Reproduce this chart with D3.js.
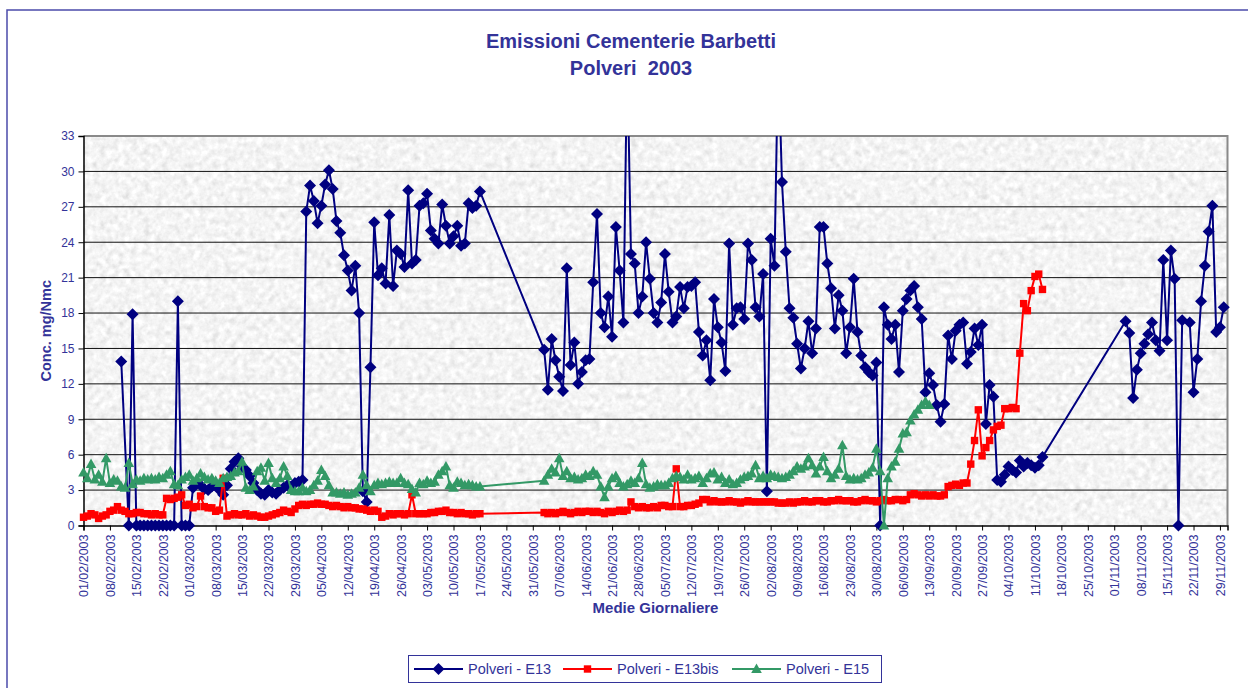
<!DOCTYPE html>
<html>
<head>
<meta charset="utf-8">
<script src="https://cdn.jsdelivr.net/npm/d3@7"></script>
<style>
  body { margin: 0; background: #fff; }
  text { font-family: "Liberation Sans", Arial, sans-serif; }
</style>
</head>
<body>
<div id="canvas"></div>
<script>
// daily means, index = days since 01/02/2003 (null = no measurement)
const startDay = "2003-02-01";
const endDay = "2003-12-01";

const e13 = [
  null,null,null,null,null,null,null,null,null,null,
  13.9,null,0,17.9,0,0,0,0,0,0,
  0,0,0,0,0,19.0,0,0,0,3.2,
  3.6,3.4,3.1,3.0,3.3,3.5,3.0,2.6,3.4,4.8,
  5.4,5.7,5.0,4.7,4.2,3.6,3.0,2.7,2.6,3.0,
  2.8,2.7,3.0,3.2,3.4,3.3,3.6,3.7,3.85,26.6,
  28.8,27.5,25.6,27.1,28.9,30.1,28.5,25.8,24.8,22.9,
  21.6,19.9,22.0,18.0,2.9,2.0,13.4,25.7,21.2,21.8,
  20.5,26.3,20.3,23.3,23.0,21.9,28.4,22.2,22.5,27.1,
  27.3,28.1,25.0,24.3,23.9,27.2,25.4,23.9,24.5,25.4,
  23.7,23.9,27.3,26.9,27.1,28.3,null,null,null,null,
  null,null,null,null,null,null,null,null,null,null,
  null,null,14.9,11.5,15.8,14.0,12.6,11.4,21.8,13.6,
  15.5,12.0,13.0,14.0,14.1,20.6,26.4,18.0,16.8,19.4,
  16.0,25.3,21.6,17.2,40,23.0,22.2,18.0,19.4,24.0,
  20.9,18.0,17.2,18.9,23.0,19.8,17.2,17.7,20.2,18.4,
  20.2,20.3,20.6,16.4,14.4,15.7,12.3,19.2,16.8,15.5,
  13.1,23.9,17.0,18.4,18.5,17.5,23.9,22.5,18.5,17.7,
  21.3,2.9,24.3,22.0,40,29.1,23.2,18.4,17.6,15.4,
  13.3,15.0,17.3,14.6,16.7,25.3,25.3,22.2,20.1,16.7,
  19.5,18.2,14.6,16.8,20.9,16.4,14.4,13.4,13.0,12.7,
  13.8,0,18.5,17.0,15.8,17.0,13.0,18.2,19.2,19.9,
  20.3,18.5,17.5,11.3,12.9,11.9,10.2,8.8,10.3,16.1,
  14.1,16.5,17.0,17.2,13.7,14.7,16.7,15.3,17.0,8.6,
  11.9,10.9,3.85,3.7,4.3,5.0,4.7,4.5,5.5,5.0,
  5.3,5.1,4.9,5.1,5.8,null,null,null,null,null,
  null,null,null,null,null,null,null,null,null,null,
  null,null,null,null,null,null,17.3,16.3,10.8,13.2,
  14.6,15.4,16.2,17.2,15.7,14.8,22.5,15.7,23.3,20.9,
  0,17.4,null,17.2,11.3,14.1,19.0,22.0,24.9,27.1,
  16.4,16.8,18.5
];

const e13bis = [
  0.7,0.8,1.0,0.9,0.6,0.8,0.9,1.2,1.3,1.6,
  1.3,1.2,1.0,1.0,1.1,1.1,1.0,1.0,0.9,1.0,
  0.9,0.9,2.3,2.2,2.3,2.4,2.6,1.7,1.8,1.5,
  1.6,2.5,1.6,1.5,1.5,1.2,1.3,4.0,0.8,0.9,
  1.0,0.9,0.9,1.0,0.8,0.9,0.8,0.7,0.7,0.8,
  0.9,1.0,1.1,1.3,1.2,1.1,1.4,1.7,1.8,1.7,
  1.8,1.8,1.9,1.8,1.8,1.7,1.6,1.7,1.6,1.5,
  1.6,1.5,1.5,1.4,1.4,1.3,1.2,1.3,1.2,0.7,
  0.8,1.0,0.9,1.0,1.0,0.9,1.0,2.6,1.0,1.0,
  1.0,1.0,1.1,1.1,1.2,1.2,1.3,1.1,1.1,1.0,
  1.1,1.0,1.0,0.9,1.0,1.0,null,null,null,null,
  null,null,null,null,null,null,null,null,null,null,
  null,null,1.1,1.0,1.1,1.0,1.1,1.2,1.1,1.0,
  1.1,1.2,1.1,1.2,1.2,1.1,1.2,1.1,1.0,1.2,
  1.1,1.2,1.3,1.2,1.3,2.0,1.6,1.5,1.6,1.5,
  1.5,1.6,1.5,1.7,1.7,1.6,1.6,4.8,1.6,1.6,
  1.7,1.7,1.8,1.9,2.2,2.2,2.0,2.1,2.0,2.0,
  2.0,2.1,2.0,2.0,1.9,2.0,2.1,2.0,2.0,2.0,
  2.0,2.0,2.0,2.0,1.9,1.9,1.9,2.0,1.9,2.0,
  2.0,2.1,2.0,2.0,2.1,2.1,2.0,2.0,2.1,2.1,
  2.2,2.1,2.1,2.1,2.0,2.0,2.1,2.2,2.1,2.1,
  2.0,2.1,2.2,2.1,2.1,2.2,2.2,2.1,2.2,2.6,
  2.7,2.6,2.5,2.6,2.5,2.6,2.5,2.5,2.6,3.3,
  3.4,3.5,3.4,3.6,3.6,5.2,7.2,9.8,5.9,6.6,
  7.2,8.1,8.4,8.5,9.9,9.9,10.0,9.9,14.6,18.8,
  18.2,19.9,21.1,21.3,20.0
];

const e15 = [
  4.5,4.0,5.2,3.9,4.3,3.7,5.7,3.6,3.9,3.8,
  3.3,3.2,5.3,3.5,3.9,3.8,4.0,3.9,4.0,3.9,
  4.1,4.0,4.3,4.6,3.5,3.4,3.9,4.1,4.3,3.8,
  4.0,4.4,4.1,3.9,4.0,3.8,3.6,4.0,4.1,4.2,
  4.5,4.6,5.4,3.2,3.0,3.3,4.6,4.9,3.8,5.3,
  4.0,3.6,4.0,5.0,4.2,3.0,2.9,2.9,3.2,2.9,
  3.0,3.4,3.8,4.7,4.2,3.4,2.8,2.8,2.7,2.8,
  2.6,2.7,2.8,3.2,4.3,3.4,2.9,3.4,3.6,3.5,
  3.6,3.7,3.6,3.6,4.0,3.6,3.5,3.1,2.8,3.6,
  3.5,3.8,3.6,3.7,4.3,4.6,5.0,3.4,3.2,3.7,
  3.6,3.4,3.5,3.4,3.3,3.3,null,null,null,null,
  null,null,null,null,null,null,null,null,null,null,
  null,null,3.8,4.3,4.8,4.5,5.7,4.2,4.6,4.0,
  4.1,3.9,4.0,4.3,4.2,4.6,4.3,3.3,2.4,3.3,
  4.0,4.2,3.6,3.3,3.5,3.8,3.6,4.0,5.3,3.5,
  3.2,3.3,3.5,3.4,3.4,3.6,4.0,4.2,4.1,3.9,
  4.3,3.9,4.0,4.2,3.6,4.0,4.4,4.5,3.9,4.1,
  3.6,3.9,3.5,3.6,3.9,4.1,4.2,4.4,5.1,4.0,
  4.2,4.0,4.3,4.2,4.1,4.0,4.1,4.3,4.6,5.0,
  4.8,5.0,5.7,5.1,4.4,5.0,5.8,4.6,4.0,4.3,
  4.8,6.8,4.2,3.9,4.0,3.9,4.0,4.3,4.5,4.9,
  6.5,4.6,0.0,4.0,5.0,5.4,6.5,7.8,7.9,8.9,
  9.4,9.8,10.2,10.5,10.2
];

const seriesNames = ["Polveri - E13", "Polveri - E13bis", "Polveri - E15"];
const seriesColors = ["#000080", "#ff0000", "#339966"];
const yTicks = d3.range(0, 34, 3);
const tickStepDays = 7;

const titleLines = ["Emissioni Cementerie Barbetti", "Polveri  2003"];
const yTitle = "Conc. mg/Nmc";
const xTitle = "Medie Giornaliere";

const w = 1248, h = 688;
const plot = {left: 83.5, right: 1227.5, top: 136, bottom: 525.5};
const ink = "#333399";

let svg = d3.select("#canvas")
            .append("svg")
                .attr("width", w)
                .attr("height", h)
                .attr("viewBox", [0, 0, w, h]);

const t0 = d3.utcParse("%Y-%m-%d")(startDay);
const t1 = d3.utcParse("%Y-%m-%d")(endDay);

const x = d3.scaleUtc().domain([t0, t1]).range([plot.left, plot.right]);
const y = d3.scaleLinear().domain([0, 33]).range([plot.bottom, plot.top]);

// granite texture of the plot area
const defs = svg.append("defs");
const f = defs.append("filter").attr("id", "granite")
    .attr("x", 0).attr("y", 0).attr("width", 1).attr("height", 1);
f.append("feTurbulence").attr("type", "fractalNoise")
    .attr("baseFrequency", 0.16).attr("numOctaves", 3).attr("seed", 7);
f.append("feColorMatrix").attr("type", "matrix")
    .attr("values", "0.33 0.33 0.33 0 0  0.33 0.33 0.33 0 0  0.33 0.33 0.33 0 0  0 0 0 0 1");
const ct = f.append("feComponentTransfer");
["feFuncR", "feFuncG", "feFuncB"].forEach(n =>
    ct.append(n).attr("type", "linear").attr("slope", 0.7).attr("intercept", 0.56));

defs.append("clipPath").attr("id", "clip")
  .append("rect").attr("x", 0).attr("y", plot.top).attr("width", w).attr("height", h - plot.top);

// outer frame
svg.append("rect")
    .attr("x", 7).attr("y", 10).attr("width", 1262).attr("height", 700)
    .attr("fill", "none").attr("stroke", "#4b4baa").attr("stroke-width", 1.5);

svg.append("rect")
    .attr("x", plot.left).attr("y", plot.top)
    .attr("width", plot.right - plot.left).attr("height", plot.bottom - plot.top)
    .attr("fill", "#e6e6e6")
    .attr("filter", "url(#granite)");

// grid
svg.append("g").selectAll("line")
    .data(yTicks.filter(v => v > 0 && v < 33))
  .enter().append("line")
    .attr("x1", plot.left).attr("x2", plot.right)
    .attr("y1", d => y(d)).attr("y2", d => y(d))
    .attr("stroke", "#111").attr("stroke-width", 1);

// plot border (top / right grey)
svg.append("path")
    .attr("d", `M${plot.left},${plot.top}H${plot.right}V${plot.bottom}`)
    .attr("fill", "none").attr("stroke", "#8a8a8a").attr("stroke-width", 2);

// axes
const yAxis = d3.axisLeft(y).tickValues(yTicks).tickSize(5).tickPadding(4);
const gY = svg.append("g").attr("transform", `translate(${plot.left},0)`).call(yAxis);
gY.select(".domain").attr("stroke", "#000").attr("stroke-width", 1.5);
gY.selectAll(".tick line").attr("stroke", "#000");
gY.selectAll(".tick text").attr("fill", ink).attr("font-size", 12)
    .style("font-family", "'Liberation Sans', Arial, sans-serif");

// weekly ticks counted from the first day
const xTicks = d3.utcDay.range(t0, t1, tickStepDays);
const xAxis = d3.axisBottom(x).tickValues(xTicks).tickSize(5).tickPadding(4)
    .tickFormat(d3.utcFormat("%d/%m/%Y"));
const gX = svg.append("g").attr("transform", `translate(0,${plot.bottom})`).call(xAxis);
gX.select(".domain").attr("stroke", "#000").attr("stroke-width", 1.5);
gX.selectAll(".tick line").attr("stroke", "#000");
gX.selectAll(".tick text")
    .attr("fill", ink).attr("font-size", 12.5)
    .style("font-family", "'Liberation Sans', Arial, sans-serif")
    .attr("text-anchor", "end")
    .attr("transform", "rotate(-90)")
    .attr("x", -9).attr("y", 0).attr("dy", "0.35em");

// titles
svg.append("g").selectAll("text")
    .data(titleLines)
  .enter().append("text")
    .attr("x", 631).attr("y", (d, i) => 48 + i * 27)
    .attr("text-anchor", "middle")
    .attr("font-weight", "bold").attr("font-size", 20)
    .attr("fill", ink)
    .attr("xml:space", "preserve")
    .style("white-space", "pre")
    .text(d => d);

svg.append("text")
    .attr("transform", `translate(50.5,${(plot.top + plot.bottom) / 2}) rotate(-90)`)
    .attr("text-anchor", "middle")
    .attr("font-weight", "bold").attr("font-size", 14.5)
    .attr("fill", ink)
    .text(yTitle);

svg.append("text")
    .attr("x", (plot.left + plot.right) / 2).attr("y", 613)
    .attr("text-anchor", "middle")
    .attr("font-weight", "bold").attr("font-size", 15)
    .attr("fill", ink)
    .text(xTitle);

// markers
const shapes = [
    "M0,-6L6,0L0,6L-6,0Z",
    "M-3.7,-3.7H3.7V3.7H-3.7Z",
    "M0,-5.5L5.3,4L-5.3,4Z"
];

const line = d3.line().x(d => x(d.date)).y(d => y(d.v));

function points(vals) {
    return vals.map((v, i) => v == null ? null : {date: d3.utcDay.offset(t0, i), v: v})
               .filter(d => d);
}

[e13, e13bis, e15].forEach((vals, k) => {
    const pts = points(vals);
    const g = svg.append("g");
    g.append("path")
        .attr("d", line(pts))
        .attr("clip-path", "url(#clip)")
        .attr("fill", "none")
        .attr("stroke", seriesColors[k])
        .attr("stroke-width", 2)
        .attr("stroke-linejoin", "round");
    g.selectAll("path.m")
        .data(pts.filter(d => d.v <= 33))
      .enter().append("path")
        .attr("class", "m")
        .attr("d", shapes[k])
        .attr("transform", d => `translate(${x(d.date)},${y(d.v)})`)
        .attr("fill", seriesColors[k]);
});

// legend
const lg = svg.append("g");
lg.append("rect")
    .attr("x", 408.5).attr("y", 655.5).attr("width", 473).attr("height", 27)
    .attr("fill", "#fff").attr("stroke", ink).attr("stroke-width", 1);
const legendX = [414, 563, 732];
seriesNames.forEach((name, k) => {
    const lx = legendX[k], ly = 669;
    lg.append("line")
        .attr("x1", lx).attr("x2", lx + 49).attr("y1", ly).attr("y2", ly)
        .attr("stroke", seriesColors[k]).attr("stroke-width", 2);
    lg.append("path")
        .attr("d", shapes[k])
        .attr("transform", `translate(${lx + 24.5},${ly})`)
        .attr("fill", seriesColors[k]);
    lg.append("text")
        .attr("x", lx + 54).attr("y", ly + 5)
        .attr("font-size", 14.5).attr("fill", ink)
        .text(name);
});
</script>
</body>
</html>
